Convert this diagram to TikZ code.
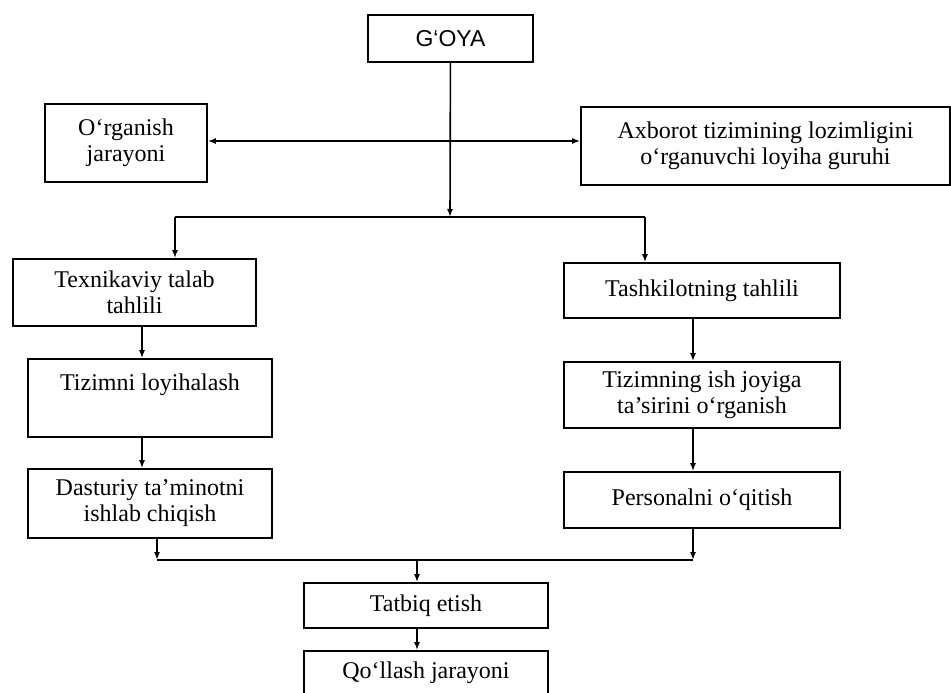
\documentclass[tikz,border=0pt]{standalone}
\usepackage{fontspec}
\setmainfont{Liberation Serif}
\newfontfamily\goyafont{Liberation Sans}
\usetikzlibrary{arrows.meta}
\tikzset{
	box/.style={draw, align=center, inner sep=0pt, font=\fontsize{24}{26}\selectfont}
}
\begin{document}
\begin{tikzpicture}[x=1pt,y=-1pt,line width=1.6pt,>={Latex[length=8pt,width=6pt]}]
		\useasboundingbox (0,0) rectangle (951,693);
		\node[box, minimum width=165pt, minimum height=47pt, font=\goyafont\fontsize{23}{26}\selectfont] (goya) at (450.5,38.5) {G‘OYA};
		\node[box, minimum width=162pt, minimum height=78pt] (org) at (126,143) {O‘rganish\\jarayoni};
		\node[box, minimum width=369pt, minimum height=78pt] (axb) at (765.5,146) {Axborot tizimining lozimligini\\o‘rganuvchi loyiha guruhi};
		\node[box, minimum width=243pt, minimum height=67pt] (tex) at (134.5,292.5) {Texnikaviy talab\\tahlili};
		\node[box, minimum width=244pt, minimum height=78pt] (loy) at (150,398) {Tizimni loyihalash\\[6pt]\mbox{}};
		\node[box, minimum width=244pt, minimum height=69pt] (das) at (150,503.5) {Dasturiy ta’minotni\\ishlab chiqish};
		\node[box, minimum width=276pt, minimum height=55pt] (tash) at (702,290.5) {Tashkilotning tahlili};
		\node[box, minimum width=276pt, minimum height=66pt] (ish) at (702,395) {Tizimning ish joyiga\\ta’sirini o‘rganish};
		\node[box, minimum width=276pt, minimum height=56pt] (pers) at (702,500) {Personalni o‘qitish};
		\node[box, minimum width=244pt, minimum height=45pt] (tat) at (426,605.5) {Tatbiq etish};
		\node[box, minimum width=244pt, minimum height=44pt] (qol) at (426,673) {Qo‘llash jarayoni};

		\coordinate (hl) at (450,141);
		\coordinate (split) at (450,217);
		\coordinate (bl) at (175,217);
		\coordinate (br) at (645,217);
		\coordinate (lc) at (142,0);
		\coordinate (rc) at (693,0);
		\coordinate (ml) at (157,560);
		\coordinate (mr) at (693,560);
		\coordinate (mc) at (417,560);

		\draw[->] (goya) -- (split);
		\draw[<->] (org.east |- hl) -- (axb.west |- hl);
		\draw (bl) -- (br);
		\draw[->] (bl) -- (bl |- tex.north);
		\draw[->] (br) -- (br |- tash.north);
		\draw[->] (tex.south -| lc) -- (loy.north -| lc);
		\draw[->] (loy.south -| lc) -- (das.north -| lc);
		\draw[->] (tash.south -| rc) -- (ish.north -| rc);
		\draw[->] (ish.south -| rc) -- (pers.north -| rc);
		\draw[->] (das.south -| ml) -- (ml);
		\draw[->] (pers.south -| mr) -- (mr);
		\draw (ml) -- (mr);
		\draw[->] (mc) -- (tat.north -| mc);
		\draw[->] (tat.south -| mc) -- (qol.north -| mc);
	\end{tikzpicture}
\end{document}
